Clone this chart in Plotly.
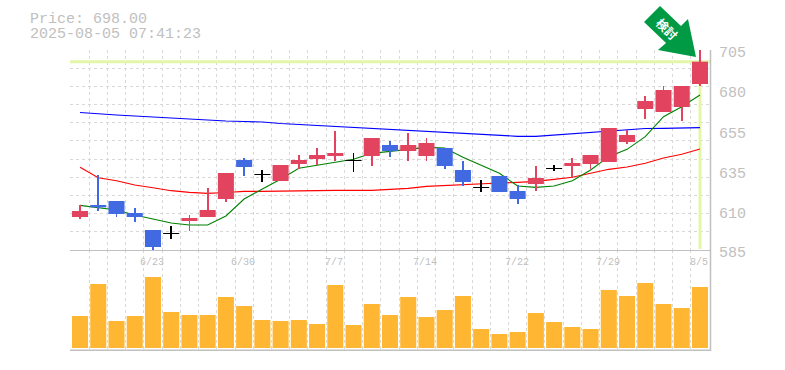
import plotly.graph_objects as go

labels = ["6/23", "6/30", "7/7", "7/14", "7/22", "7/29", "8/5"]
label_idx = [4, 9, 14, 19, 24, 29, 34]
price_labels = ["705", "680", "655", "635", "610", "585"]

opens = [604.8, 612, 614.4, 607.2, 597, 595, 602.4, 604.8, 615.6, 639, 630, 626.4, 636.6, 639.6, 641.4, 638.4, 641.4, 648,
         644.4, 641.4, 646.2, 633, 622.2, 629.4, 620.4, 624.6, 634, 635.4, 636.6, 637.8, 649.8, 669.6, 667.8, 670.8, 684.6]
closes = [608.4, 610.6, 606.6, 604.8, 586.8, 595, 604.2, 609, 631.2, 634.8, 630, 636, 639, 642, 643.2, 638.4, 652.2, 644.4,
          648, 649.2, 635.4, 625.8, 622.2, 619.8, 615.6, 628.2, 634, 637.2, 642, 658.2, 654, 674.4, 681, 683.4, 698]
highs = [612, 630, 614.4, 610.2, 597, 599.4, 606, 622.2, 631.2, 640.2, 633, 636, 642, 646.2, 656.4, 643.2, 652.2, 650.4,
         655.2, 652.2, 646.2, 638.4, 627, 629.4, 624, 635.4, 636, 640.2, 642, 658.2, 657, 677.4, 683.4, 683.4, 705]
lows = [603.6, 608.4, 604.8, 601.8, 585, 591.6, 596.4, 604.8, 613.8, 629.4, 625.8, 626.4, 633.6, 636, 638.4, 631.8, 635.4, 640.8,
        638.4, 638.4, 633.6, 623.4, 619.8, 619.8, 612.6, 620.4, 632.4, 628.2, 633.6, 637.8, 648.6, 663.6, 667.8, 662.4, 683.4]
volumes = [32, 64, 27, 32, 71, 36, 33, 33, 51, 42, 28, 27, 28, 24, 63, 23, 44, 33,
           51, 31, 38, 52, 19, 14, 16, 35, 26, 21, 19, 58, 52, 65, 44, 40, 61]
ma_short = [611.8, 610.6, 609, 606, 603.6, 601.2, 600, 600, 605.4, 615.6, 621.6, 627.4, 634, 635.8, 637.8, 639.4, 643, 644.4,
            645.4, 646.6, 646.2, 640.6, 636, 631, 623.4, 622.6, 623.4, 626.6, 633, 641, 645.4, 653, 665, 671, 678]
ma_mid = [634.6, 628.4, 626.6, 624, 622.4, 620.6, 619.6, 619, 619.5, 620.2, 620.2, 620.4, 620.8, 620.8, 620.8, 620.8, 620.8, 621.4,
          622, 623.2, 623.8, 624.4, 624.6, 625.2, 625.6, 626.2, 627.4, 628.6, 631, 633.4, 634.8, 637, 640.2, 642.4, 645.6]
ma_long = [667.5, 666.6, 666, 665.4, 664.8, 664.2, 663.6, 662.7, 662.4, 662.1, 661.8, 660.9, 660.3, 659.7, 659.1, 658.5, 657.9, 657.4,
           656.8, 656.4, 655.8, 655.2, 654.6, 653.8, 653.2, 653.2, 654, 654.6, 655.4, 656.6, 657.3, 657.9, 658, 658.4, 658.4]
last_price = 698
price_text = "Price: 698.00"
time_text = "2025-08-05 07:41:23"
arrow_text = "<b>検討</b>"

UP, DOWN, DOJI = "#e2445f", "#4169e1", "#000000"
n = len(opens)
idx = list(range(n))
MONO = "Liberation Mono"
XR = [-0.55, 34.55]
YR = [585, 705]
W, H, L, R, T, B = 785, 370, 70, 75, 50, 20
PW, PH = W - L - R, H - T - B


def px(xp, yp):
    return (xp - L) / PW, (H - B - yp) / PH


fig = go.Figure()
hl = "#e4f6a8"
fig.add_trace(go.Scatter(x=XR, y=[last_price, last_price], mode="lines", line=dict(color=hl, width=3), xaxis="x", yaxis="y"))
fig.add_trace(go.Scatter(x=[n - 1, n - 1], y=[585.6, last_price], mode="lines", line=dict(color=hl, width=3), xaxis="x", yaxis="y"))
for vals, c in ((ma_long, "#0000ff"), (ma_mid, "#ff0000"), (ma_short, "#008000")):
    fig.add_trace(go.Scatter(x=idx, y=vals, mode="lines", line=dict(color=c, width=1.1), xaxis="x", yaxis="y"))


def colour(o, c):
    return DOJI if o == c else (UP if c > o else DOWN)


cols = [colour(o, c) for o, c in zip(opens, closes)]
fig.add_trace(go.Bar(x=idx, base=lows, y=[h - l for h, l in zip(highs, lows)], width=0.045, marker=dict(color=cols, line_width=0), xaxis="x", yaxis="y3"))
fig.add_trace(go.Bar(x=idx, base=[min(o, c) for o, c in zip(opens, closes)],
                     y=[max(abs(c - o), 0.2) for o, c in zip(opens, closes)], width=0.88,
                     marker=dict(color=cols, line_width=0), xaxis="x", yaxis="y3"))
fig.add_trace(go.Bar(x=idx, y=volumes, width=0.88, marker=dict(color="#ffb733", line_width=0), xaxis="x2", yaxis="y2"))

GRID = dict(showgrid=True, gridcolor="#d8d8d8", griddash="3px,3px", gridwidth=1, zeroline=False, showticklabels=False, ticks="")
fig.update_layout(
    width=W, height=H, margin=dict(l=L, r=R, t=T, b=B), showlegend=False, barmode="overlay",
    paper_bgcolor="white", plot_bgcolor="white",
    xaxis=dict(domain=[0, 1], range=XR, tick0=-0.5, dtick=1, anchor="y", **GRID),
    xaxis2=dict(domain=[0, 1], range=XR, tick0=-0.5, dtick=1, anchor="y2", **GRID),
    yaxis=dict(domain=[1 / 3, 1], range=YR, tick0=585, dtick=120 / 11, anchor="x", **GRID),
    yaxis3=dict(domain=[1 / 3, 1], range=YR, overlaying="y", anchor="x", showgrid=False, zeroline=False, showticklabels=False),
    yaxis2=dict(domain=[0, 1 / 3], range=[-2, 98], anchor="x2", showgrid=False, zeroline=False, showticklabels=False),
    font=dict(family=MONO, color="#c0c0c0"),
)

shapes = []
for x0, y0, x1, y1, w in ((L, 250.5, L + PW, 250.5, 1), (L, 350.3, L + PW + 1, 350.3, 1.5), (L + PW + 0.5, 50, L + PW + 0.5, 351, 1.5)):
    a, b = px(x0, y0)
    c, d = px(x1, y1)
    shapes.append(dict(type="line", xref="paper", yref="paper", x0=a, y0=b, x1=c, y1=d, line=dict(color="#c0c0c0", width=w), layer="above"))
arrow = [(660, 6), (644, 22), (666, 43), (658, 50), (696, 57), (688, 19), (681, 26)]
path = "M " + " L ".join("%.4f %.4f" % px(*p) for p in arrow) + " Z"
shapes.append(dict(type="path", xref="paper", yref="paper", path=path, fillcolor="#009944", line_width=0, layer="above"))
fig.update_layout(shapes=shapes)

ann = []
for i, t in zip(label_idx, labels):
    ann.append(dict(x=i, xref="x2", y=(350 - 262) / 300, yref="paper", text=t, showarrow=False, xshift=-1, font=dict(size=10, family=MONO, color="#c0c0c0"), xanchor="center", yanchor="middle"))
for k, t in enumerate(price_labels):
    ann.append(dict(x=(719 - L) / PW, xref="paper", y=(350 - (54 + 40 * k)) / 300, yref="paper", text=t, showarrow=False, font=dict(size=15, family=MONO, color="#c0c0c0"), xanchor="left", yanchor="middle", xshift=-2))
for yp, t in ((19, price_text), (34, time_text)):
    ann.append(dict(x=(30 - L) / PW, xref="paper", y=(350 - yp) / 300, yref="paper", text=t, showarrow=False, height=14, font=dict(size=15, family=MONO, color="#c0c0c0"), xanchor="left", yanchor="middle", xshift=-2))
ax, ay = px(667, 29)
ann.append(dict(x=ax, y=ay, xref="paper", yref="paper", text=arrow_text, showarrow=False, textangle=45, font=dict(size=12, color="white", family="Noto Sans CJK JP"), xanchor="center", yanchor="middle"))
fig.update_layout(annotations=ann)

fig.write_html("out.html", post_script="document.body.style.margin='0';", config={"displayModeBar": False})
